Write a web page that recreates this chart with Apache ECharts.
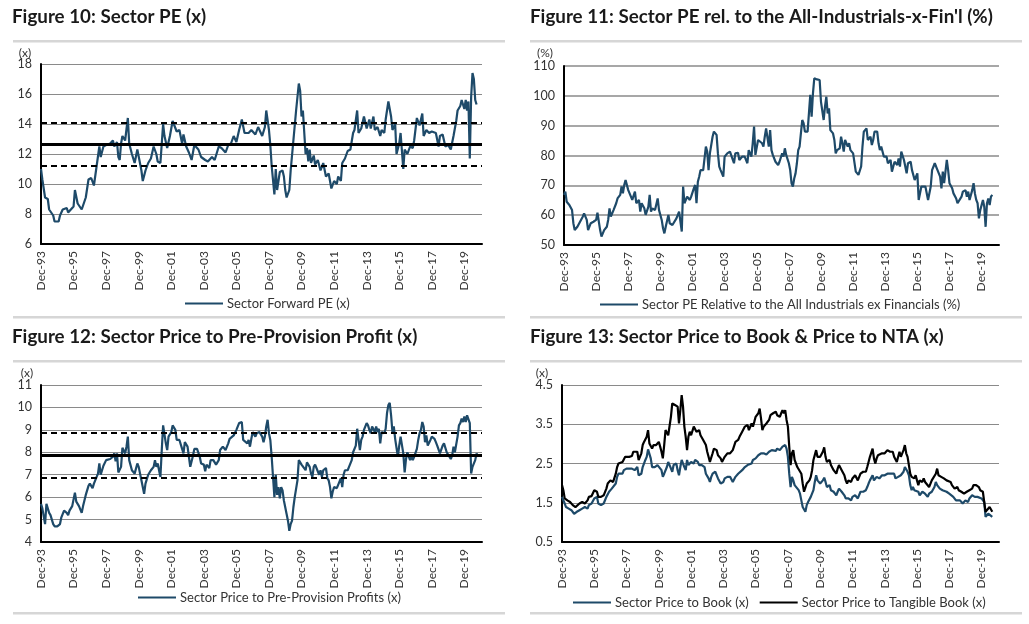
<!DOCTYPE html>
<html><head><meta charset="utf-8">
<script src="https://cdn.jsdelivr.net/npm/echarts@6/dist/echarts.min.js"></script>
<style>html,body{margin:0;padding:0;background:#fff}#c{width:1029px;height:624px}</style>
</head><body><div id="c"></div>
<script>
// x positions are months elapsed since Dec-1993
const xTickLabels = ['Dec-93','Dec-95','Dec-97','Dec-99','Dec-01','Dec-03','Dec-05','Dec-07','Dec-09','Dec-11','Dec-13','Dec-15','Dec-17','Dec-19'];

// Figure 10: Sector Forward PE (x)
const peData = [[0,11.0],[1,10.3],[3,9.1],[5,9.0],[6,8.3],[9,7.9],[10,7.5],[11,7.4],[13,7.5],[14,7.9],[16,8.3],[19,8.4],[20,8.1],[21,8.0],[22,8.3],[24,8.5],[25,9.6],[27,8.7],[30,8.3],[31,8.4],[33,9.1],[35,10.3],[37,10.4],[39,9.9],[41,11.2],[43,12.5],[44,11.8],[46,12.5],[48,12.6],[51,12.7],[53,12.9],[54,12.5],[56,12.8],[57,11.8],[58,11.6],[59,12.7],[60,13.2],[62,12.9],[64,14.4],[65,12.7],[67,12.0],[69,11.4],[71,12.3],[72,12.4],[74,10.9],[75,10.2],[77,10.9],[79,11.4],[81,11.7],[83,12.5],[85,12.0],[86,11.5],[88,11.4],[90,14.0],[91,13.2],[93,12.4],[95,13.2],[97,14.2],[100,13.5],[102,13.6],[104,12.7],[105,13.3],[107,12.5],[109,12.1],[111,11.6],[113,12.6],[116,12.3],[118,11.8],[121,11.6],[123,11.5],[126,11.8],[128,11.6],[131,12.5],[133,12.4],[136,12.1],[138,12.6],[140,12.7],[142,13.2],[144,12.8],[146,13.6],[148,14.3],[150,13.4],[153,13.4],[155,13.6],[158,13.3],[160,13.8],[163,13.2],[165,13.8],[166,14.9],[168,13.6],[169,12.6],[170,11.2],[172,9.3],[173,11.0],[174,9.6],[176,10.8],[178,10.9],[179,10.5],[180,9.6],[181,9.1],[183,9.6],[184,10.9],[186,12.9],[188,14.9],[190,16.7],[191,16.2],[192,14.5],[193,14.9],[195,12.0],[196,12.4],[197,11.5],[198,12.3],[199,11.4],[201,11.9],[202,11.3],[204,11.6],[206,10.9],[208,11.4],[210,10.5],[212,10.7],[214,9.7],[216,10.2],[218,10.0],[219,10.5],[221,10.2],[222,11.4],[224,11.7],[226,12.2],[228,12.3],[230,13.4],[231,13.6],[233,14.9],[234,13.4],[236,13.7],[238,14.5],[240,13.7],[242,14.3],[243,13.7],[245,14.5],[246,13.6],[248,13.8],[250,13.2],[251,13.6],[253,13.4],[254,14.3],[256,15.5],[258,14.5],[259,13.6],[261,14.0],[262,12.0],[264,12.7],[265,13.4],[267,11.0],[268,12.3],[270,12.0],[272,12.5],[274,12.4],[275,12.9],[277,14.4],[279,13.9],[281,14.7],[282,13.2],[284,13.6],[286,13.4],[288,13.5],[291,13.4],[293,12.5],[294,13.2],[296,13.3],[298,12.5],[300,12.6],[302,12.3],[304,13.2],[306,14.2],[307,14.9],[309,15.2],[310,15.6],[312,15.0],[313,15.6],[314,14.9],[315,15.5],[316,11.7],[317,15.8],[318,17.4],[319,17.0],[320,15.6],[321,15.3]];
const peStats = [12.65, 14.1, 11.2]; // average, +1 s.d., -1 s.d.

// Figure 11: Sector PE relative to All Industrials ex Financials (%)
const relData = [[0,66.8],[1,67.9],[2,64.5],[4,63.4],[6,61.7],[7,57.3],[8,55.0],[10,56.1],[12,57.8],[14,59.5],[15,60.6],[17,58.4],[18,55.0],[19,55.6],[20,57.3],[22,57.8],[24,58.4],[25,60.8],[27,55.0],[28,52.8],[29,52.2],[30,55.0],[32,56.1],[33,58.4],[34,62.3],[35,59.5],[37,61.7],[38,61.2],[39,64.0],[40,65.6],[42,66.8],[43,69.6],[44,67.3],[45,70.1],[46,71.8],[48,68.4],[50,66.2],[51,65.1],[53,67.9],[54,64.0],[56,65.1],[57,61.2],[58,64.0],[60,62.3],[61,60.1],[63,62.8],[64,66.8],[65,61.2],[66,62.3],[68,61.7],[70,65.6],[71,61.7],[73,58.4],[74,55.6],[75,53.9],[76,56.1],[78,60.1],[79,57.3],[81,56.7],[82,56.7],[84,58.9],[85,58.4],[86,61.2],[87,57.8],[88,54.5],[89,69.6],[90,64.0],[92,66.2],[94,65.1],[95,66.2],[97,69.0],[98,70.1],[99,64.0],[100,71.2],[101,72.9],[102,75.1],[104,75.1],[106,83.0],[107,81.3],[108,75.1],[109,80.7],[111,86.3],[112,88.0],[114,86.9],[115,80.7],[116,76.3],[117,75.1],[119,72.9],[120,79.6],[122,80.7],[124,81.3],[125,80.7],[127,77.4],[128,80.7],[130,80.9],[131,78.5],[133,79.6],[135,79.6],[136,80.2],[137,77.4],[138,81.8],[140,79.6],[141,84.1],[142,89.7],[143,80.2],[145,85.2],[146,85.2],[148,84.1],[149,83.0],[150,86.3],[151,89.1],[153,83.0],[154,88.5],[155,81.8],[156,80.2],[158,77.9],[160,76.8],[161,77.9],[162,77.4],[163,80.7],[164,79.6],[165,82.4],[166,80.2],[168,77.4],[169,75.1],[170,70.7],[171,69.6],[172,72.3],[173,74.0],[174,77.4],[175,81.8],[176,83.0],[178,91.9],[179,90.8],[180,88.0],[182,88.0],[184,100.3],[185,93.0],[186,100.8],[187,105.9],[189,105.5],[191,105.3],[192,98.0],[193,98.0],[194,91.9],[195,96.4],[196,99.7],[197,94.1],[198,95.8],[199,88.5],[201,87.4],[202,85.2],[203,80.7],[204,81.8],[206,82.4],[207,86.3],[208,84.1],[209,81.3],[210,85.2],[212,83.0],[213,84.1],[214,81.8],[216,80.7],[218,74.6],[219,74.0],[220,73.5],[222,76.3],[223,83.0],[224,88.0],[225,87.4],[226,89.1],[227,85.2],[229,86.3],[230,83.5],[231,85.2],[232,88.0],[234,88.0],[235,84.1],[236,81.8],[237,83.0],[239,79.6],[240,79.0],[241,79.6],[242,77.4],[244,78.5],[245,74.6],[246,76.3],[247,77.9],[249,76.8],[250,79.0],[251,76.3],[252,81.3],[254,78.5],[255,79.0],[256,74.0],[257,77.4],[259,77.9],[260,75.1],[262,71.8],[263,71.2],[264,74.0],[265,65.1],[267,69.6],[268,69.0],[270,69.6],[272,65.1],[273,65.6],[274,69.6],[275,75.1],[277,77.4],[278,76.3],[279,76.3],[281,72.9],[282,69.0],[283,74.6],[284,70.7],[285,74.6],[286,78.5],[287,75.1],[288,70.7],[290,69.0],[291,67.3],[293,65.6],[294,64.0],[295,64.5],[297,66.2],[298,67.9],[300,68.4],[301,66.2],[302,67.9],[303,65.1],[305,68.4],[306,70.7],[307,67.3],[308,65.1],[309,64.0],[310,58.9],[311,61.7],[312,61.2],[313,65.1],[314,62.8],[315,56.1],[316,64.0],[317,65.6],[318,63.4],[319,66.2],[320,66.8]];

// Figure 12: Sector Price to Pre-Provision Profits (x)
const ppopData = [[0,5.7],[1,5.5],[3,4.8],[4,5.7],[6,5.3],[7,5.2],[9,4.8],[10,4.7],[12,4.7],[14,4.8],[15,5.1],[17,5.4],[19,5.3],[20,5.2],[21,5.4],[23,5.6],[25,6.2],[26,5.8],[28,5.6],[30,5.3],[31,5.6],[33,6.1],[35,6.5],[36,6.6],[38,6.4],[39,6.6],[41,6.9],[42,7.05],[43,7.5],[44,7.0],[46,7.4],[48,7.65],[49,7.65],[51,7.7],[53,7.8],[54,7.95],[55,7.6],[56,7.95],[57,7.1],[59,7.35],[60,8.2],[62,7.95],[63,8.25],[64,8.7],[65,7.65],[67,7.2],[69,7.05],[71,7.5],[72,7.35],[74,6.75],[76,6.15],[77,6.6],[79,7.0],[81,7.2],[83,7.35],[84,7.65],[85,7.35],[86,7.5],[88,6.9],[89,8.1],[90,9.2],[92,8.4],[93,8.1],[94,8.7],[96,8.9],[97,9.2],[99,9.0],[100,8.55],[102,8.55],[104,8.15],[105,7.95],[106,8.45],[108,8.25],[109,7.8],[110,7.35],[112,7.85],[113,8.15],[115,8.15],[117,7.8],[118,7.5],[120,7.45],[121,7.15],[122,7.45],[124,7.3],[125,7.65],[127,7.65],[128,7.55],[129,7.45],[131,7.65],[132,8.1],[134,8.25],[136,8.1],[138,8.4],[139,8.6],[140,8.55],[142,8.75],[143,8.7],[144,9.0],[146,9.3],[148,9.35],[149,8.55],[150,8.55],[152,8.4],[153,8.55],[154,8.25],[155,8.6],[156,8.9],[158,8.7],[159,8.85],[161,8.9],[163,8.7],[164,8.45],[165,8.7],[166,9.15],[167,9.45],[168,8.85],[169,8.55],[170,7.8],[171,6.9],[172,6.0],[173,7.0],[174,6.1],[175,6.45],[176,5.95],[177,6.45],[178,6.3],[179,5.85],[181,5.25],[182,4.95],[183,4.5],[184,4.8],[185,4.95],[186,5.55],[187,6.0],[189,6.75],[190,7.65],[191,7.7],[192,7.45],[193,7.5],[195,7.2],[196,7.55],[198,7.35],[199,7.05],[200,6.9],[201,7.35],[202,7.45],[203,7.3],[205,7.0],[206,7.2],[207,6.9],[208,7.2],[210,7.3],[211,6.85],[212,6.75],[213,6.45],[214,5.95],[215,6.25],[216,6.45],[218,6.4],[219,6.55],[220,6.6],[221,6.85],[222,6.45],[223,7.0],[224,7.2],[226,7.2],[227,7.35],[228,7.35],[229,7.65],[230,8.0],[232,8.3],[233,9.05],[235,8.1],[236,8.55],[237,8.7],[238,9.0],[240,9.3],[241,9.2],[242,9.0],[243,8.85],[244,9.15],[246,8.9],[247,9.15],[248,8.9],[249,9.05],[250,8.4],[251,8.9],[253,8.85],[254,9.05],[255,9.75],[256,10.1],[257,10.2],[258,9.65],[259,8.9],[260,9.15],[261,8.6],[263,7.8],[264,8.3],[265,8.7],[267,7.95],[268,7.1],[269,7.7],[270,8.0],[272,7.65],[273,7.8],[274,7.65],[275,7.8],[277,8.15],[278,8.55],[279,8.85],[280,9.0],[281,9.35],[282,9.15],[283,8.45],[284,8.75],[285,8.3],[287,8.55],[288,8.7],[290,8.6],[291,8.45],[292,8.3],[294,7.95],[295,7.95],[296,8.3],[297,8.4],[299,8.0],[300,7.95],[301,7.8],[302,7.7],[303,7.85],[304,8.25],[305,8.0],[307,8.7],[308,9.2],[309,9.3],[310,9.5],[311,9.35],[312,9.6],[313,9.35],[314,9.65],[315,9.65],[316,9.3],[317,7.05],[318,7.35],[320,7.65],[321,7.95],[322,7.8]];
const ppopStats = [7.85, 8.87, 6.86]; // average, +1 s.d., -1 s.d.

// Figure 13: Sector Price to Book (x)
const pbData = [[0,1.65],[2,1.48],[3,1.39],[5,1.35],[7,1.31],[9,1.22],[11,1.27],[13,1.31],[15,1.35],[17,1.39],[19,1.35],[20,1.44],[22,1.48],[24,1.61],[26,1.65],[27,1.48],[29,1.44],[31,1.48],[33,1.65],[35,1.78],[37,1.86],[38,1.86],[40,1.99],[41,2.16],[42,2.24],[43,2.29],[45,2.24],[46,2.33],[48,2.37],[50,2.37],[52,2.37],[53,2.41],[54,2.33],[56,2.41],[57,2.20],[59,2.24],[60,2.41],[62,2.59],[63,2.67],[64,2.86],[66,2.63],[67,2.41],[69,2.41],[71,2.46],[72,2.50],[74,2.33],[75,2.16],[76,2.24],[78,2.41],[79,2.54],[80,2.46],[82,2.29],[83,2.46],[84,2.41],[85,2.50],[86,2.33],[87,2.20],[88,2.41],[89,2.59],[91,2.41],[92,2.33],[93,2.59],[94,2.46],[96,2.54],[97,2.59],[98,2.50],[99,2.59],[101,2.54],[102,2.46],[103,2.41],[104,2.46],[106,2.41],[107,2.24],[109,2.12],[110,2.03],[111,2.16],[112,2.24],[114,2.29],[115,2.24],[116,2.12],[117,2.07],[118,1.99],[120,2.03],[121,2.12],[123,2.16],[124,2.12],[125,2.16],[127,2.03],[128,2.03],[129,2.16],[131,2.24],[132,2.29],[134,2.33],[135,2.37],[136,2.41],[138,2.46],[139,2.50],[141,2.50],[142,2.59],[143,2.59],[144,2.63],[146,2.71],[147,2.67],[148,2.76],[149,2.71],[150,2.76],[152,2.73],[153,2.76],[154,2.80],[156,2.84],[157,2.88],[159,2.82],[160,2.88],[162,2.84],[163,2.88],[164,2.93],[165,2.88],[166,2.97],[167,2.88],[168,2.67],[169,2.24],[170,1.90],[171,2.16],[172,2.07],[173,1.95],[174,1.99],[176,1.82],[177,1.73],[178,1.56],[179,1.39],[181,1.27],[182,1.44],[183,1.52],[184,1.52],[185,1.65],[187,1.82],[188,2.03],[189,2.20],[190,2.07],[191,2.03],[192,1.99],[194,2.07],[195,2.14],[196,2.03],[197,1.90],[199,1.95],[200,1.82],[201,1.86],[202,1.78],[204,1.69],[205,1.78],[206,1.86],[207,1.82],[208,1.78],[210,1.69],[211,1.61],[212,1.56],[213,1.61],[215,1.56],[216,1.65],[217,1.61],[218,1.69],[220,1.61],[221,1.65],[222,1.78],[223,1.82],[224,1.78],[226,1.82],[227,1.90],[228,1.99],[229,2.07],[231,2.20],[232,2.07],[233,2.12],[234,2.16],[236,2.12],[237,2.16],[238,2.20],[239,2.24],[240,2.20],[242,2.24],[243,2.29],[244,2.24],[245,2.29],[247,2.24],[248,2.12],[249,2.07],[250,2.16],[252,2.20],[253,2.16],[254,2.29],[255,2.41],[257,2.29],[258,2.20],[259,1.95],[260,1.82],[261,1.90],[262,1.82],[263,1.86],[265,1.78],[266,1.69],[267,1.73],[268,1.78],[270,1.73],[271,1.69],[272,1.65],[273,1.73],[275,1.78],[276,1.82],[277,1.90],[278,2.03],[279,1.95],[281,1.86],[282,1.90],[283,1.82],[284,1.82],[286,1.78],[287,1.78],[288,1.73],[289,1.69],[291,1.65],[292,1.61],[293,1.56],[294,1.61],[296,1.56],[297,1.52],[298,1.48],[299,1.48],[300,1.56],[302,1.52],[303,1.61],[304,1.65],[305,1.69],[307,1.65],[308,1.69],[309,1.65],[310,1.69],[312,1.61],[313,1.65],[314,1.52],[315,1.14],[316,1.14],[317,1.22],[318,1.18],[320,1.14]];

// Figure 13: Sector Price to Tangible Book (x)
const ptbData = [[0,1.95],[1,1.82],[2,1.61],[4,1.56],[6,1.52],[8,1.44],[10,1.39],[11,1.41],[13,1.48],[15,1.52],[17,1.48],[19,1.56],[20,1.65],[22,1.67],[24,1.82],[26,1.78],[27,1.65],[29,1.65],[31,1.69],[33,1.86],[34,1.99],[36,2.07],[37,2.12],[38,2.03],[40,2.24],[41,2.41],[42,2.50],[43,2.50],[45,2.54],[46,2.59],[47,2.67],[48,2.65],[50,2.67],[52,2.69],[53,2.80],[54,2.84],[56,2.80],[57,2.59],[59,2.76],[60,2.97],[61,3.05],[63,3.18],[64,3.35],[65,3.01],[67,2.88],[68,2.97],[69,2.93],[70,2.97],[72,3.05],[73,2.93],[74,2.80],[75,2.63],[76,2.97],[77,3.35],[78,3.39],[79,3.22],[80,3.27],[81,3.69],[82,4.03],[84,3.99],[85,4.03],[86,3.95],[87,3.52],[88,3.86],[89,4.24],[90,3.95],[91,3.44],[92,3.18],[93,2.84],[94,3.18],[95,3.31],[96,3.22],[98,3.44],[99,3.44],[100,3.31],[102,3.35],[103,3.22],[104,3.18],[105,3.10],[107,2.97],[108,2.80],[109,2.67],[110,2.54],[112,2.76],[113,2.88],[114,2.93],[115,2.84],[116,2.71],[118,2.63],[119,2.54],[120,2.59],[121,2.67],[123,2.76],[124,2.80],[125,2.76],[127,2.84],[128,2.88],[129,3.05],[131,3.10],[132,3.18],[134,3.31],[135,3.35],[136,3.44],[138,3.48],[139,3.35],[141,3.52],[142,3.44],[143,3.56],[144,3.69],[146,3.78],[147,3.90],[148,3.65],[149,3.35],[150,3.44],[152,3.52],[153,3.48],[154,3.61],[155,3.73],[157,3.78],[158,3.73],[159,3.82],[160,3.73],[162,3.69],[163,3.78],[164,3.86],[165,3.78],[166,3.86],[167,3.61],[168,3.44],[169,2.93],[170,2.46],[171,2.76],[172,2.84],[173,2.59],[174,2.50],[175,2.41],[176,2.46],[178,2.24],[179,1.99],[180,1.78],[181,1.82],[182,1.99],[184,2.07],[185,2.16],[186,2.33],[187,2.59],[189,2.84],[190,2.67],[191,2.71],[192,2.67],[194,2.80],[195,2.91],[196,2.67],[197,2.54],[199,2.59],[200,2.46],[201,2.50],[202,2.33],[204,2.24],[205,2.37],[206,2.46],[207,2.41],[208,2.33],[210,2.20],[211,2.07],[212,1.99],[213,2.07],[215,2.03],[216,2.12],[217,2.07],[218,2.20],[220,2.07],[221,2.12],[222,2.24],[223,2.29],[224,2.29],[226,2.29],[227,2.41],[228,2.54],[229,2.67],[231,2.88],[232,2.63],[233,2.50],[234,2.63],[235,2.71],[236,2.67],[238,2.76],[239,2.80],[240,2.76],[241,2.71],[242,2.84],[244,2.80],[245,2.84],[246,2.80],[247,2.67],[249,2.54],[250,2.67],[251,2.80],[252,2.67],[254,2.84],[255,2.97],[256,2.76],[257,2.67],[258,2.63],[259,2.24],[260,2.16],[261,2.20],[262,2.12],[263,2.20],[264,2.07],[265,1.95],[266,2.07],[268,2.03],[269,2.12],[270,2.03],[271,1.99],[273,1.90],[274,1.95],[275,2.07],[276,2.12],[278,2.24],[279,2.37],[280,2.20],[281,2.24],[282,2.16],[284,2.12],[285,2.12],[286,2.07],[287,2.07],[289,2.03],[290,1.95],[291,1.90],[292,1.86],[294,1.90],[295,1.82],[296,1.86],[297,1.78],[299,1.73],[300,1.69],[301,1.78],[302,1.78],[303,1.82],[305,1.86],[306,1.95],[307,1.90],[308,1.95],[310,1.90],[311,1.82],[312,1.86],[313,1.78],[314,1.52],[315,1.27],[316,1.31],[318,1.39],[319,1.35],[320,1.27]];

const titles = ['Figure 10: Sector PE (x)', "Figure 11: Sector PE rel. to the All-Industrials-x-Fin'l (%)", 'Figure 12: Sector Price to Pre-Provision Profit (x)', 'Figure 13: Sector Price to Book & Price to NTA (x)'];
const seriesNames = ['Sector Forward PE (x)', 'Sector PE Relative to the All Industrials ex Financials (%)', 'Sector Price to Pre-Provision Profits (x)', 'Sector Price to Book (x)', 'Sector Price to Tangible Book (x)'];

const FONT = 'Lato, "Noto Sans", sans-serif';
const BLUE = '#1e4a69';
const chart = echarts.init(document.getElementById('c'), null, {renderer: 'canvas'});

const grids = [
  {left: 41, top: 64, width: 441, height: 180},
  {left: 564, top: 66, width: 435, height: 179},
  {left: 41, top: 385, width: 441, height: 157},
  {left: 562, top: 385, width: 437, height: 157}
];
const yCfg = [
  {min: 6, max: 18, interval: 2},
  {min: 50, max: 110, interval: 10},
  {min: 4, max: 11, interval: 1},
  {min: 0.5, max: 4.5, interval: 1}
];

const xAxes = grids.map((g, i) => ({
  type: 'value', gridIndex: i, min: 0, max: 325, interval: 24,
  axisLine: {show: true, lineStyle: {color: '#000', width: 2}},
  axisTick: {show: false}, splitLine: {show: false},
  axisLabel: {rotate: 90, fontSize: 12, color: '#333', fontFamily: FONT, margin: 7,
    formatter: v => (v % 24 === 0 && xTickLabels[v / 24]) ? xTickLabels[v / 24] : ''}
}));
const yAxes = yCfg.map((c, i) => ({
  type: 'value', gridIndex: i, min: c.min, max: c.max, interval: c.interval,
  axisLine: {show: true, lineStyle: {color: '#000', width: 2}},
  axisTick: {show: false},
  splitLine: {show: true, lineStyle: {color: '#8a8a8a', width: i === 1 ? 1.5 : 1}},
  axisLabel: {fontSize: 12.5, color: '#333', fontFamily: FONT, margin: 9,
    formatter: v => i === 3 ? v.toFixed(1) : String(v)}
}));

function statLines(s) {
  return {
    silent: true, symbol: 'none', label: {show: false}, animation: false,
    emphasis: {disabled: true},
    data: [
      {yAxis: s[0], lineStyle: {type: 'solid', width: 3, color: '#000'}},
      {yAxis: s[1], lineStyle: {type: [6, 4], width: 2, color: '#000'}},
      {yAxis: s[2], lineStyle: {type: [6, 4], width: 2, color: '#000'}}
    ]
  };
}
function line(name, data, gi, color, extra) {
  return Object.assign({
    type: 'line', name: name, data: data, xAxisIndex: gi, yAxisIndex: gi,
    symbol: 'none', showSymbol: false, silent: true,
    lineStyle: {color: color, width: 2.2}, itemStyle: {color: color},
    emphasis: {disabled: true}
  }, extra || {});
}

const series = [
  line(seriesNames[0], peData, 0, BLUE, {markLine: statLines(peStats)}),
  line(seriesNames[1], relData, 1, BLUE),
  line(seriesNames[2], ppopData, 2, BLUE, {markLine: statLines(ppopStats)}),
  line(seriesNames[3], pbData, 3, BLUE),
  line(seriesNames[4], ptbData, 3, '#000')
];

const legendBase = {orient: 'horizontal', icon: 'rect', itemWidth: 38, itemHeight: 2, itemGap: 11,
  textStyle: {fontSize: 13, color: '#333', fontFamily: FONT, padding: [0, 0, 0, -1]}, selectedMode: false};
const legends = [
  Object.assign({}, legendBase, {data: [seriesNames[0]], left: 180, top: 292}),
  Object.assign({}, legendBase, {data: [seriesNames[1]], left: 595, top: 293}),
  Object.assign({}, legendBase, {data: [seriesNames[2]], left: 133, top: 586}),
  Object.assign({}, legendBase, {data: [seriesNames[3], seriesNames[4]], left: 568, top: 591})
];

function title(txt, x, y) {
  return {type: 'text', left: x, top: y, silent: true,
    style: {text: txt, fontSize: 18.8, fontWeight: 'bold', fill: '#1a1a1a', fontFamily: FONT}};
}
function unit(txt, x, y) {
  return {type: 'text', x: x, y: y, silent: true,
    style: {text: txt, fontSize: 12, fill: '#333', fontFamily: FONT, align: 'center', verticalAlign: 'middle'}};
}
function sep(x, y, w) {
  return {type: 'rect', silent: true, shape: {x: x, y: y, width: w, height: 2.5}, style: {fill: '#d6d6d6'}};
}

chart.setOption({
  animation: false,
  backgroundColor: '#fff',
  grid: grids,
  xAxis: xAxes,
  yAxis: yAxes,
  legend: legends,
  series: series,
  graphic: [
    title(titles[0], 12, 7), title(titles[1], 530, 7),
    title(titles[2], 12, 327), title(titles[3], 530, 327),
    sep(13, 40, 492), sep(530, 40, 492), sep(13, 316, 492), sep(530, 316, 492),
    sep(13, 360, 492), sep(530, 360, 492), sep(13, 612, 492), sep(530, 612, 492),
    unit('(x)', 25, 53), unit('(%)', 545, 53), unit('(x)', 27, 373), unit('(x)', 542, 373)
  ]
});
</script>
</body></html>
